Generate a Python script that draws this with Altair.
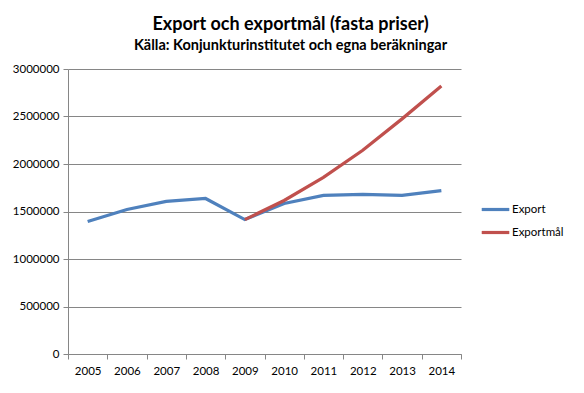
import altair as alt
import pandas as pd

years = ["2005", "2006", "2007", "2008", "2009", "2010", "2011", "2012", "2013", "2014"]
export = [1394000, 1521000, 1606000, 1637000, 1415000, 1585000, 1669000, 1680000, 1669000, 1720000]
mal_years = ["2009", "2010", "2011", "2012", "2013", "2014"]
exportmal = [1415000, 1616000, 1860000, 2145000, 2475000, 2820000]

rows = [{"År": y, "Värde": v, "Serie": "Export"} for y, v in zip(years, export)]
rows += [{"År": y, "Värde": v, "Serie": "Exportmål"} for y, v in zip(mal_years, exportmal)]
df = pd.DataFrame(rows)

FONT = "Lato"

chart = alt.Chart(df).mark_line(strokeWidth=3.2).encode(
    x=alt.X("År:N", sort=years, title=None,
            scale=alt.Scale(paddingInner=0, paddingOuter=0),
            axis=alt.Axis(labelAngle=0, tickBand="extent", domainColor="#868686",
                          tickColor="#868686", tickSize=5, labelPadding=6,
                          labelFontSize=11.5, labelColor="#000000", labelFont=FONT,
                          grid=False)),
    y=alt.Y("Värde:Q", title=None,
            scale=alt.Scale(domain=[0, 3000000], nice=False),
            axis=alt.Axis(values=[0, 500000, 1000000, 1500000, 2000000, 2500000, 3000000],
                          format="d", domainColor="#868686", tickColor="#868686",
                          tickSize=5, labelPadding=4, gridColor="#868686",
                          labelFontSize=11.5, labelColor="#000000", labelFont=FONT)),
    color=alt.Color("Serie:N",
                    scale=alt.Scale(domain=["Export", "Exportmål"], range=["#4F81BD", "#C0504D"]),
                    legend=alt.Legend(title=None, orient="none", legendX=412, legendY=125,
                                      symbolType="stroke", symbolSize=760, symbolStrokeWidth=3.2,
                                      labelFontSize=11.5, labelFont=FONT, labelColor="#000000",
                                      rowPadding=1, labelOffset=1)),
).properties(
    width=393,
    height=285,
    title=alt.TitleParams(
        "Export och exportmål (fasta priser)",
        subtitle="Källa: Konjunkturinstitutet och egna beräkningar",
        font=FONT, fontSize=18, fontWeight="bold", color="#000000",
        subtitleFont=FONT, subtitleFontSize=14.5, subtitleFontWeight="bold",
        subtitleColor="#000000", subtitlePadding=5,
        anchor="middle", dx=26, offset=11,
    ),
    autosize=alt.AutoSizeParams(type="none"),
    padding={"left": 60, "top": 61, "right": 115, "bottom": 31},
).configure_view(stroke=None)

chart.save("out.html", embed_options={"renderer": "svg", "actions": False})
